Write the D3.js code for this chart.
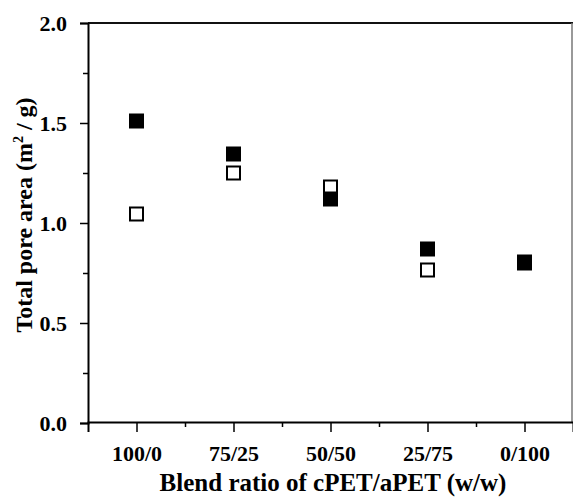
<!DOCTYPE html>
<html>
<head>
<meta charset="utf-8">
<script src="https://cdn.jsdelivr.net/npm/d3@7"></script>
<style>
  html, body { margin: 0; padding: 0; background: #fff; }
  svg { display: block; }
  text { font-family: "Liberation Serif", "DejaVu Serif", serif; font-weight: bold; fill: #000; }
</style>
</head>
<body>
<svg id="chart" width="573" height="498"></svg>
<script>
// Blend ratios (cPET/aPET, w/w)
const categories = ["100/0", "75/25", "50/50", "25/75", "0/100"];
// Total pore area (m²/g), two sample sets
const openValues = [1.045, 1.25, 1.18, 0.765, 0.80];
const filledValues = [1.51, 1.345, 1.12, 0.87, 0.805];
const yTicks = [0.0, 0.5, 1.0, 1.5, 2.0];
const yMinorTicks = [0.25, 0.75, 1.25, 1.75];

const svg = d3.select("#chart");
const plotLeft = 88, plotRight = 573, plotTop = 23, plotBottom = 423;

const x = d3.scaleLinear().domain([0.5, 5.5]).range([plotLeft, plotRight]);
const y = d3.scaleLinear().domain([0, 2]).range([plotBottom, plotTop]);

// frame: top and right edges
svg.append("line").attr("x1", plotLeft).attr("x2", plotRight).attr("y1", plotTop).attr("y2", plotTop)
  .attr("stroke", "#111").attr("stroke-width", 2);
svg.append("line").attr("x1", plotRight - 1).attr("x2", plotRight - 1).attr("y1", plotTop).attr("y2", plotBottom)
  .attr("stroke", "#777").attr("stroke-width", 1.5);

// y axis
const yAxis = svg.append("g").attr("transform", `translate(${plotLeft},0)`)
  .call(d3.axisLeft(y).tickValues(yTicks).tickFormat(d3.format(".1f")).tickSize(8).tickPadding(13));
yAxis.select(".domain").attr("stroke", "#000").attr("stroke-width", 2);
yAxis.selectAll(".tick line").attr("stroke", "#000").attr("stroke-width", 1.5);
yAxis.selectAll(".tick text").attr("font-size", 22).attr("font-family", "Liberation Serif").attr("font-weight", "bold");
svg.append("g").attr("transform", `translate(${plotLeft},0)`)
  .call(d3.axisLeft(y).tickValues(yMinorTicks).tickFormat("").tickSize(5))
  .call(g => g.select(".domain").remove())
  .selectAll(".tick line").attr("stroke", "#000").attr("stroke-width", 1.5);

// x axis
const xAxis = svg.append("g").attr("transform", `translate(0,${plotBottom - 1})`)
  .call(d3.axisBottom(x).tickValues([1, 2, 3, 4, 5]).tickFormat((d) => categories[d - 1]).tickSize(10));
xAxis.select(".domain").attr("stroke", "#000").attr("stroke-width", 2);
xAxis.selectAll(".tick line").attr("stroke", "#000").attr("stroke-width", 1.5);
xAxis.selectAll(".tick text").attr("font-size", 22).attr("font-family", "Liberation Serif").attr("font-weight", "bold")
  .attr("y", 39).attr("dy", 0);
svg.append("g").attr("transform", `translate(0,${plotBottom - 1})`)
  .call(d3.axisBottom(x).tickValues([1.5, 2.5, 3.5, 4.5]).tickFormat("").tickSize(5))
  .call(g => g.select(".domain").remove())
  .selectAll(".tick line").attr("stroke", "#000").attr("stroke-width", 1.5);

// axis titles
svg.append("text").attr("x", 333).attr("y", 491).attr("text-anchor", "middle")
  .attr("font-size", 25).text("Blend ratio of cPET/aPET (w/w)");

const yTitle = svg.append("text").attr("transform", "translate(32,215) rotate(-90)")
  .attr("text-anchor", "middle").attr("font-size", 24);
yTitle.append("tspan").text("Total pore area (m");
yTitle.append("tspan").attr("font-size", 14).attr("dy", -9).text("2");
yTitle.append("tspan").attr("dy", 9).text(" / g)");

// markers
const size = 13;
svg.append("g").selectAll("rect").data(openValues).join("rect")
  .attr("x", (d, i) => x(i + 1) - size / 2)
  .attr("y", (d) => y(d) - size / 2)
  .attr("width", size).attr("height", size)
  .attr("fill", "#fff").attr("stroke", "#000").attr("stroke-width", 2);
svg.append("g").selectAll("rect").data(filledValues).join("rect")
  .attr("x", (d, i) => x(i + 1) - (size + 2) / 2)
  .attr("y", (d) => y(d) - (size + 2) / 2)
  .attr("width", size + 2).attr("height", size + 2)
  .attr("fill", "#000");
</script>
</body>
</html>
